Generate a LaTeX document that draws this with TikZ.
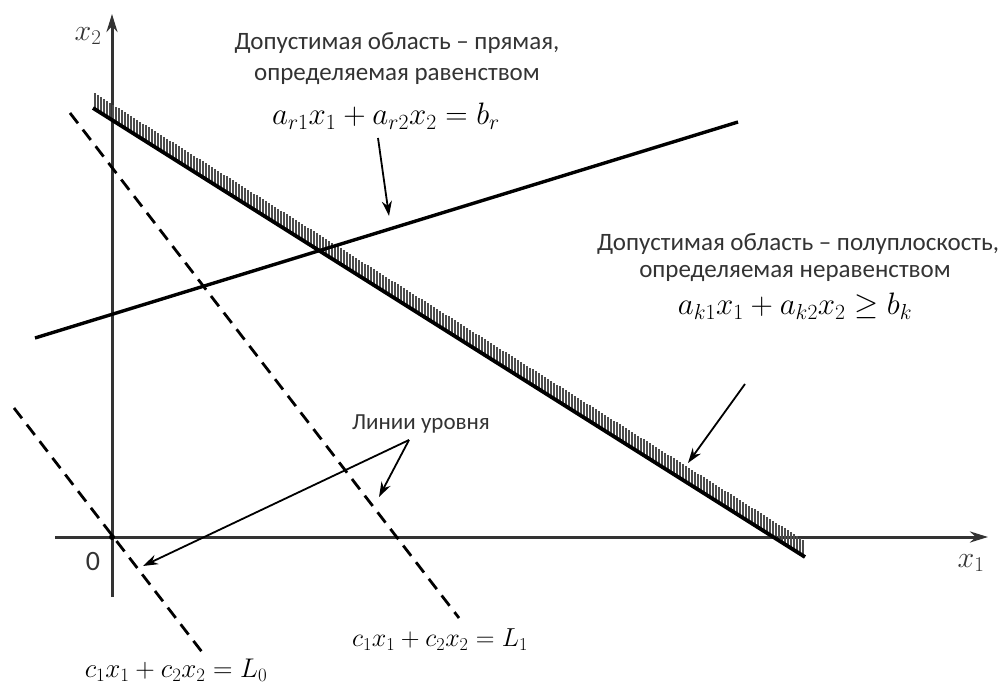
\RequirePackage{fix-cm}
\documentclass[tikz,border=0pt]{standalone}
\usepackage{fontspec}
\setmainfont{Carlito}
\usetikzlibrary{arrows.meta}
\begin{document}
\begin{tikzpicture}[x=1pt,y=-1pt,
  axis/.style={line width=3pt,draw=black!80,-{Stealth[length=18pt,width=11pt]}},
  solidline/.style={line width=3.4pt},
  levelline/.style={line width=2.8pt,dash pattern=on 13pt off 8pt},
  hatch/.style={line width=1.8pt,draw=black!70},
  pointer/.style={line width=1.8pt,-{Stealth[length=15pt,width=10pt]}},
  lbl/.style={font=\fontsize{25}{29}\selectfont,text=black!80,inner sep=0pt},
  eq/.style={font=\fontsize{31}{36}\selectfont,inner sep=0pt}]
\useasboundingbox (0,0) rectangle (1004,687);
% axes
\coordinate (x1s) at (55,537);
\coordinate (x1e) at (988,537);
\coordinate (x2s) at (112,597);
\coordinate (x2e) at (112,14);
\draw[axis] (x1s) -- (x1e);
\draw[axis] (x2s) -- (x2e);
\fill (112,537) circle (3pt);
\node[font=\fontsize{28}{32}\selectfont,text=black!80] (zero) at (93,562) {0};
\node[eq,font=\fontsize{30}{34}\selectfont,text=black!80] (lx1) at (971,563) {$x_1$};
\node[eq,font=\fontsize{30}{34}\selectfont,text=black!80] (lx2) at (88,36) {$x_2$};
% hatched band (inequality)
\coordinate (ha) at (93,108);
\coordinate (hb) at (805,557);
\foreach \x in {95,98,...,804} \draw[hatch] (\x,{108+0.6306*(\x-93)}) -- ++(0,-16);
\draw[solidline,line width=3.8pt] (ha) -- (hb);
% equality line
\coordinate (ea) at (35,338);
\coordinate (eb) at (738,122);
\draw[solidline] (ea) -- (eb);
% level lines
\coordinate (l1a) at (70,113);
\coordinate (l1b) at (459,618);
\coordinate (l0a) at (14,408);
\coordinate (l0b) at (202,652);
\draw[levelline] (l1a) -- (l1b);
\draw[levelline] (l0a) -- (l0b);
% texts
\node[lbl] (t1) at (397,43) {Допустимая область – прямая,};
\node[lbl] (t2) at (397,76) {определяемая равенством};
\node[eq] (f1) at (386,116) {$a_{r1}x_1+a_{r2}x_2=b_r$};
\node[lbl] (t3) at (798,244) {Допустимая область – полуплоскость,};
\node[lbl] (t4) at (795,273) {определяемая неравенством};
\node[eq] (f2) at (795,306) {$a_{k1}x_1+a_{k2}x_2\ge b_k$};
\node[lbl,font=\fontsize{23}{27}\selectfont] (t5) at (421,424) {Линии уровня};
\node[eq,font=\fontsize{26}{31}\selectfont] (fl1) at (440,640) {$c_1x_1+c_2x_2=L_1$};
\node[eq,font=\fontsize{27}{32}\selectfont] (fl0) at (176,670) {$c_1x_1+c_2x_2=L_0$};
% pointers
\coordinate (p1s) at (378,138);
\coordinate (p1e) at (389,216);
\draw[pointer] (p1s) -- (p1e);
\coordinate (p2s) at (745,384);
\coordinate (p2e) at (688,463);
\draw[pointer] (p2s) -- (p2e);
\coordinate (p3s) at (409,440);
\coordinate (p3a) at (143,566);
\coordinate (p3b) at (379,497);
\draw[pointer] (p3s) -- (p3a);
\draw[pointer] (p3s) -- (p3b);
\end{tikzpicture}
\end{document}
